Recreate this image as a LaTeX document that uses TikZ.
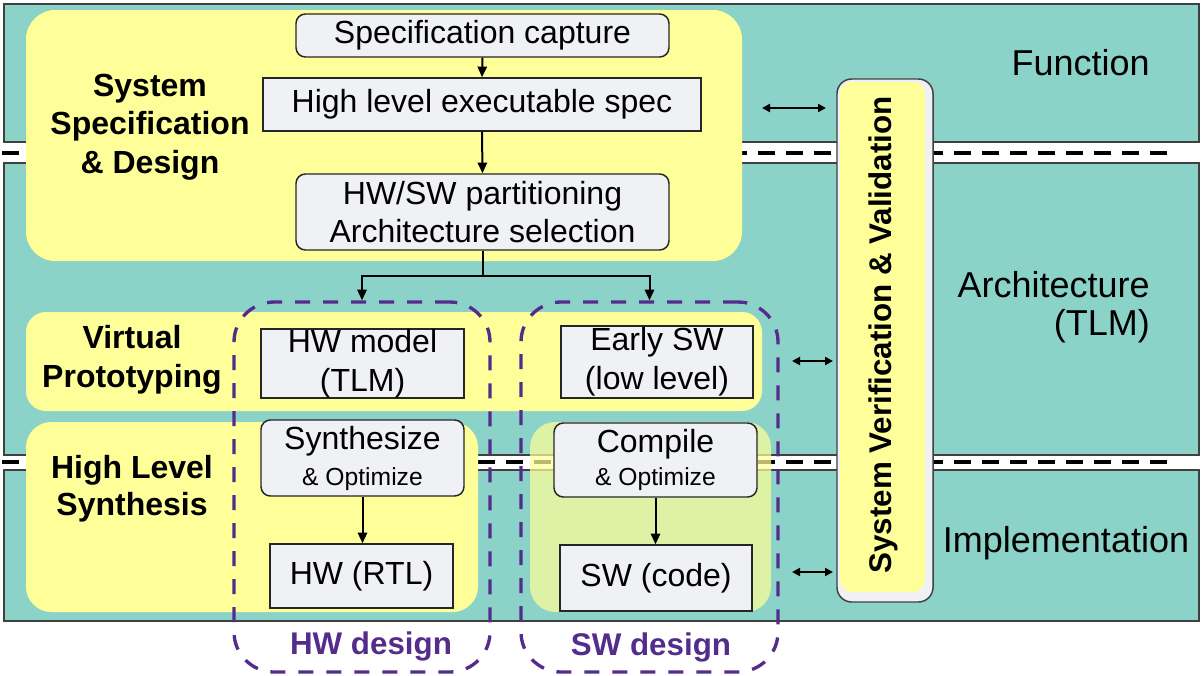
\documentclass[tikz,border=0pt]{standalone}
\usepackage{fontspec}
\setmainfont{Liberation Sans}
\usetikzlibrary{arrows.meta}
\definecolor{tealbg}{RGB}{139,211,200}
\definecolor{yel}{RGB}{255,255,153}
\definecolor{boxg}{RGB}{240,241,244}
\definecolor{purp}{RGB}{84,44,140}
\definecolor{bord}{RGB}{64,64,64}
\begin{document}
\begin{tikzpicture}[x=0.75pt,y=-0.75pt,
 band/.style={fill=tealbg, draw=bord, line width=1.1pt},
 sep/.style={line width=3pt, dash pattern=on 12.75pt off 8.25pt},
 yarea/.style={fill=yel},
 gbox/.style={draw=black!85, fill=boxg, line width=1.1pt, font=\fontsize{24}{29}\selectfont, align=center, inner sep=0pt},
 rbox/.style={gbox, rounded corners=7pt},
 lbl/.style={font=\bfseries\fontsize{24}{29}\selectfont, align=center, inner sep=0pt},
 rlbl/.style={font=\fontsize{27}{30}\selectfont, inner sep=0pt},
 dbox/.style={draw=purp, line width=2.5pt, dash pattern=on 11.25pt off 9.75pt, rounded corners=30pt, inner sep=0pt},
 plbl/.style={font=\bfseries\fontsize{23.5}{28}\selectfont, text=purp, inner sep=0pt},
 arr/.style={line width=1.5pt, -{Triangle[length=8pt,width=7pt]}},
 darr/.style={line width=1.5pt, {Triangle[length=6pt,width=6pt]}-{Triangle[length=6pt,width=6pt]}},
]
\path[use as bounding box, fill=white] (0,0) rectangle (1201,675);
% bands
\path[band] (4,4) rectangle (1199,142);
\path[band] (4,163) rectangle (1199,455);
\path[band] (4,470) rectangle (1199,621);
\draw[sep] (2,153) -- (1167,153);
\draw[sep] (2,462) -- (1167,462);
% yellow areas
\path[yarea, rounded corners=22pt] (26,10) rectangle (742,261);
\path[yarea, rounded corners=15pt] (26,312) rectangle (762,411);
\path[yarea, rounded corners=19pt] (26,422) rectangle (478,612);
\path[fill=yel, fill opacity=0.72, rounded corners=19pt] (530,422) rectangle (771,612);
% labels
\node[lbl] (lssd) at (150,127) {System\\Specification\\\& Design};
\node[lbl] (lvp) at (132,360) {Virtual\\Prototyping};
\node[lbl] (lhls) at (132,489) {High Level\\[-1.5pt]Synthesis};
% boxes
\node[rbox, minimum width=279.75pt, minimum height=32.25pt] (spec) at (482.5,35.5) {Specification capture};
\node[gbox, minimum width=328.5pt, minimum height=39.75pt] (hles) at (482,104.5) {High level executable spec};
\node[rbox, minimum width=279.75pt, minimum height=57pt] (hwsw) at (482.5,212) {HW/SW partitioning\\Architecture selection};
\node[gbox, minimum width=152.25pt, minimum height=51.75pt] (hwm) at (362.5,363.5) {HW model\\(TLM)};
\node[gbox, minimum width=144pt, minimum height=54pt] (esw) at (657,362) {Early SW\\(low level)};
\node[rbox, minimum width=152.25pt, minimum height=57pt] (syn) at (362.5,458) {Synthesize\\[-2pt]{\fontsize{18.5}{22}\selectfont\& Optimize}};
\node[gbox, minimum width=137.25pt, minimum height=48pt] (rtl) at (361.5,576) {HW (RTL)};
\node[rbox, minimum width=152.25pt, minimum height=55.5pt] (comp) at (655.5,460) {Compile\\[-4pt]{\fontsize{18.5}{22}\selectfont\& Optimize}};
\node[gbox, minimum width=144pt, minimum height=49.5pt] (swc) at (656,578) {SW (code)};
% dashed design groups
\node[dbox, minimum width=192pt, minimum height=277.5pt] (hwd) at (362,487) {};
\node[dbox, minimum width=192.75pt, minimum height=277.5pt] (swd) at (649.5,487) {};
\node[plbl] (hwl) at (371,646) {HW design};
\node[plbl] (swl) at (651,647) {SW design};
% arrows
\draw[arr] (spec.south) -- (hles.north);
\draw[arr] (hles.south) -- (hwsw.north);
\draw[arr] (hwsw.south) -- ++(0,25) -| (hwd.north);
\draw[arr] (hwsw.south) -- ++(0,25) -| (swd.north);
\draw[arr] (syn.south) -- (syn.south |- rtl.north);
\draw[arr] (comp.south) -- (comp.south |- swc.north);
% verification box
\node[draw=bord, fill=boxg, line width=1.1pt, rounded corners=11pt, minimum width=72pt, minimum height=392.25pt, inner sep=0pt] (svv) at (885,340.5) {};
\path[fill=yel, rounded corners=9pt] (840,82) rectangle (925,592);
\node[lbl, rotate=90, font=\bfseries\fontsize{23.5}{28}\selectfont] (svvt) at (883,335) {System Verification \& Validation};
% double arrows
\coordinate (a1) at (762,108); \coordinate (b1) at (826,108);
\coordinate (a2) at (792,361); \coordinate (b2) at (833,361);
\coordinate (a3) at (792,572); \coordinate (b3) at (833,572);
\draw[darr] (a1) -- (b1);
\draw[darr] (a2) -- (b2);
\draw[darr] (a3) -- (b3);
% right labels
\node[rlbl, anchor=base east] (fn) at (1150,75) {Function};
\node[rlbl, anchor=base east] (ar) at (1150,297) {Architecture};
\node[rlbl, anchor=base east] (tlm) at (1150,335) {(TLM)};
\node[rlbl, anchor=base] (im) at (1066,552) {Implementation};
\end{tikzpicture}
\end{document}
